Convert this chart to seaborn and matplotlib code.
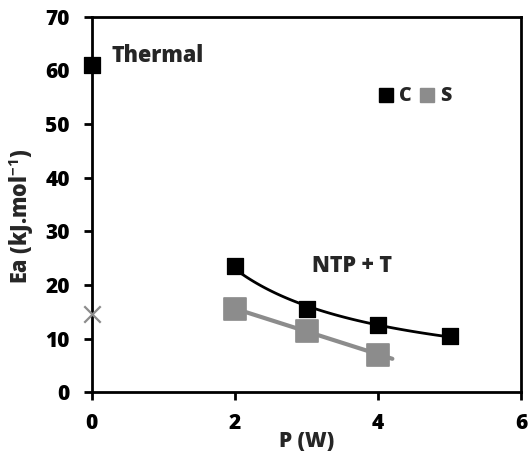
import numpy as np
import pandas as pd
import matplotlib
matplotlib.use('Agg')
import matplotlib.pyplot as plt
from matplotlib.lines import Line2D
import seaborn as sns

# --- data ---
c_power = [0, 2, 3, 4, 5]
c_ea = [61, 23.5, 15.5, 12.5, 10.5]
s_power = [2, 3, 4]
s_ea = [15.5, 11.5, 7.0]
x_point = [0]
x_ea = [14.5]

C_COLOR = '#000000'
S_COLOR = '#8c8c8c'
FONT = 'Open Sans'
W = 'heavy'

sns.set_style('white')
plt.rcParams['font.family'] = [FONT, 'DejaVu Sans']
plt.rcParams['font.weight'] = W
plt.rcParams['mathtext.fontset'] = 'custom'
plt.rcParams['mathtext.rm'] = FONT + ':bold'
plt.rcParams['mathtext.bf'] = FONT + ':bold'
plt.rcParams['mathtext.it'] = FONT + ':bold'

fig = plt.figure(figsize=(5.28, 4.55), dpi=100)
ax = fig.add_axes([0.174, 0.138, 0.813, 0.825])

# trend lines (power fit for C over NTP points, linear for S)
cx = np.array(c_power[1:], dtype=float)
cy = np.array(c_ea[1:], dtype=float)
b, ln_a = np.polyfit(np.log(cx), np.log(cy), 1)
xx = np.linspace(2, 5, 100)
ax.plot(xx, np.exp(ln_a) * xx ** b, color=C_COLOR, lw=2, zorder=2)

m, k = np.polyfit(s_power, s_ea, 1)
xs = np.linspace(2, 4.2, 50)
ax.plot(xs, m * xs + k, color=S_COLOR, lw=3, zorder=2)

df_c = pd.DataFrame({'P': c_power, 'Ea': c_ea})
df_s = pd.DataFrame({'P': s_power, 'Ea': s_ea})
sns.scatterplot(data=df_c, x='P', y='Ea', marker='s', s=130, color=C_COLOR,
                edgecolor=C_COLOR, ax=ax, zorder=3, clip_on=False)
sns.scatterplot(data=df_s, x='P', y='Ea', marker='s', s=240, color=S_COLOR,
                edgecolor=S_COLOR, ax=ax, zorder=3, clip_on=False)
ax.scatter(x_point, x_ea, marker='x', s=140, color=S_COLOR, linewidths=1.6,
           zorder=3, clip_on=False)

ax.set_xlim(0, 6)
ax.set_ylim(0, 70)
ax.set_xticks([0, 2, 4, 6])
ax.set_yticks(range(0, 71, 10))
for sp in ax.spines.values():
    sp.set_visible(True)
    sp.set_color('black')
    sp.set_linewidth(2)
ax.tick_params(axis='both', direction='out', length=6, width=2, colors='black',
               labelsize=15)
ax.tick_params(axis='x', bottom=True, pad=9)
ax.tick_params(axis='y', left=True, pad=10)
for lab in ax.get_xticklabels() + ax.get_yticklabels():
    lab.set_fontweight(W)

ax.set_xlabel('P (W)', fontsize=15, fontweight=W, va='top')
ax.xaxis.set_label_coords(0.5, -0.103)
ax.set_ylabel('Ea (kJ.mol$^{-1}$)', fontsize=15.5, fontweight=W)
ax.yaxis.set_label_coords(-0.13, 0.47)

ax.text(0.28, 61.6, 'Thermal', fontsize=15.5, fontweight=W, va='baseline')
ax.text(3.08, 22.4, 'NTP + T', fontsize=15.5, fontweight=W, va='baseline')

handles = [Line2D([], [], marker='s', ls='', color=C_COLOR, markersize=10),
           Line2D([], [], marker='s', ls='', color=S_COLOR, markersize=10)]
leg = ax.legend(handles, ['C', 'S'], ncol=2, frameon=False, loc='center',
                bbox_to_anchor=(0.75, 0.788), handletextpad=0.2,
                columnspacing=0.25, handlelength=1.0, borderpad=0,
                prop={'weight': W, 'size': 14})

fig.savefig('out.png', dpi=100)
